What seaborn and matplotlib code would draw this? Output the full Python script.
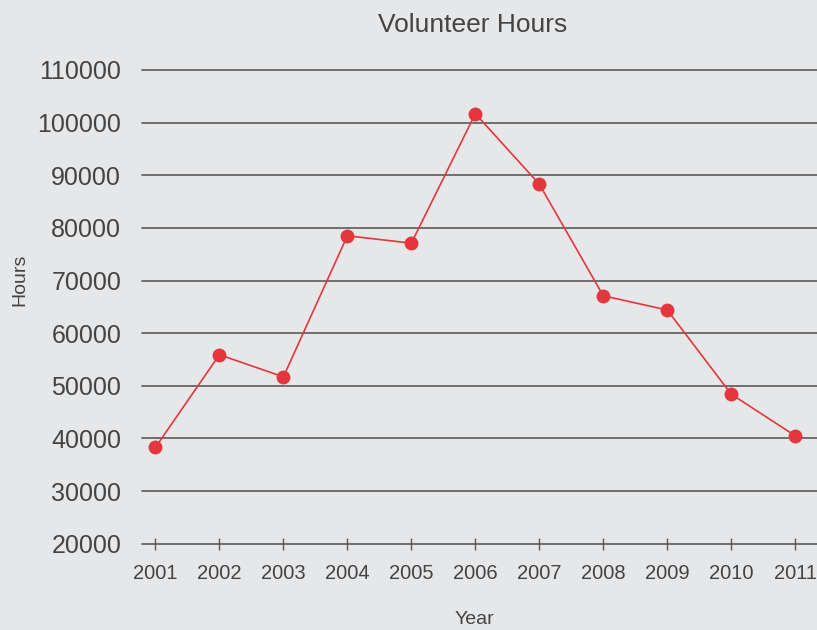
import matplotlib
matplotlib.use("Agg")
import matplotlib.pyplot as plt
import seaborn as sns
import pandas as pd

years = [2001, 2002, 2003, 2004, 2005, 2006, 2007, 2008, 2009, 2010, 2011]
hours = [38300, 55900, 51700, 78500, 77100, 101700, 88300, 67100, 64400, 48400, 40500]
y_ticks = [20000, 30000, 40000, 50000, 60000, 70000, 80000, 90000, 100000, 110000]

sns.set_style("white")
plt.rcParams['font.family'] = ['Liberation Sans', 'DejaVu Sans']

bg = "#e6e7e9"
txt = "#444444"
fig = plt.figure(figsize=(8.17, 6.30), dpi=100, facecolor=bg)
ax = fig.add_axes([142/817, (630-543.7)/630, 1 - 142/817, (543.7-70)/630])
ax.set_facecolor(bg)

df = pd.DataFrame({"Year": years, "Hours": hours})
sns.lineplot(data=df, x="Year", y="Hours", ax=ax, color="#e2373d", linewidth=1.2,
             marker="o", markersize=10, markeredgewidth=0, zorder=3)

ax.set_xlim(2000.79, 2011.34)
ax.set_ylim(20000, 110000)
ax.set_yticks(y_ticks)
ax.set_yticklabels([str(v) for v in y_ticks])
ax.set_xticks(years)
ax.set_xticklabels([str(v) for v in years])

for v in y_ticks:
    ax.axhline(v, color="#5a5a5a", linewidth=1.2, zorder=1, clip_on=False)

for s in ax.spines.values():
    s.set_visible(False)

ax.tick_params(axis="y", length=0, pad=15, labelsize=18, labelcolor=txt)
ax.tick_params(axis="x", length=9, direction="inout", width=1, color="#5a5a5a",
               pad=10, labelsize=14.5, labelcolor=txt, bottom=True)

ax.set_xlabel("")
ax.set_ylabel("")
fig.text(474/817, 1 - 620/630, "Year", ha="center", va="center", fontsize=14, color=txt)
fig.text(20/817, 1 - 280/630, "Hours", ha="center", va="center", fontsize=14, color=txt, rotation=90)
fig.text(473/817, 1 - 25/630, "Volunteer Hours", ha="center", va="center", fontsize=19, color=txt)

fig.savefig("out.png", dpi=100, facecolor=bg)
